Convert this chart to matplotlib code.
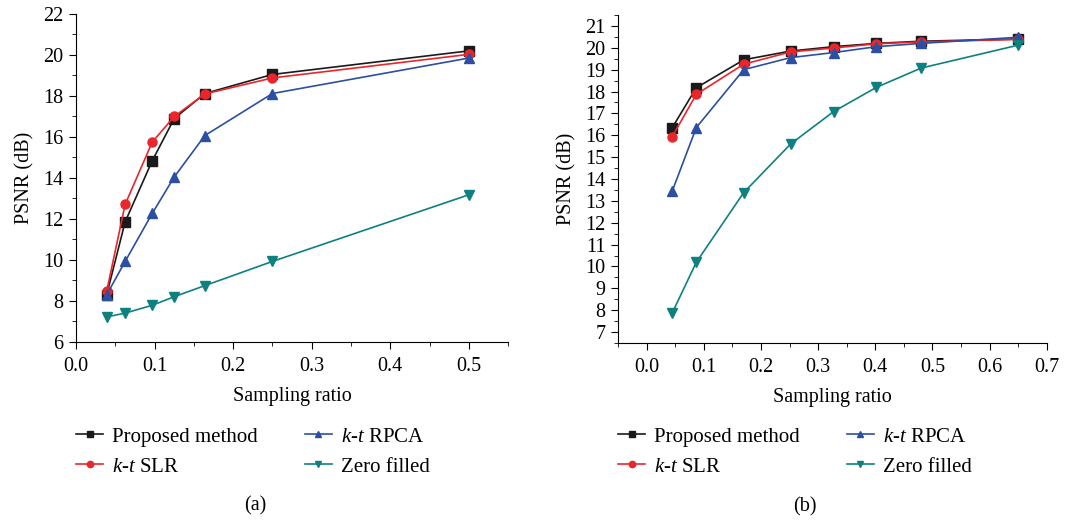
import matplotlib
matplotlib.use("Agg")
from matplotlib import pyplot as plt
from matplotlib.ticker import MultipleLocator, FormatStrFormatter

plt.rcParams["font.family"] = "Liberation Serif"
plt.rcParams["mathtext.fontset"] = "custom"
plt.rcParams["mathtext.it"] = "Liberation Serif:italic"
plt.rcParams["mathtext.rm"] = "Liberation Serif"

# Panel (a)
x_a = [0.039, 0.0625, 0.097, 0.125, 0.164, 0.25, 0.5]
proposed_a = [8.3, 11.86, 14.84, 16.9, 18.12, 19.05, 20.2]
slr_a = [8.47, 12.71, 15.75, 17.0, 18.1, 18.88, 20.03]
rpca_a = [8.3, 9.93, 12.27, 14.05, 16.07, 18.12, 19.85]
zero_a = [7.22, 7.41, 7.79, 8.21, 8.75, 9.93, 13.18]

# Panel (b)
x_b = [0.045, 0.087, 0.17, 0.252, 0.327, 0.402, 0.48, 0.65]
proposed_b = [16.35, 18.17, 19.45, 19.85, 20.05, 20.2, 20.3, 20.4]
slr_b = [15.94, 17.87, 19.25, 19.81, 19.99, 20.18, 20.27, 20.38]
rpca_b = [13.45, 16.35, 19.0, 19.55, 19.78, 20.05, 20.2, 20.48]
zero_b = [7.88, 10.19, 13.38, 15.6, 17.08, 18.19, 19.07, 20.12]

labels = ["Proposed method", "$k$-$t$ SLR", "$k$-$t$ RPCA", "Zero filled"]
colors = ["#1a1a1a", "#e8262b", "#2a4fa3", "#0e8080"]
markers = ["s", "o", "^", "v"]

fig = plt.figure(figsize=(10.83, 5.25), dpi=100)
ax_a = fig.add_axes([0.0702, 0.3486, 0.399, 0.6248])
ax_b = fig.add_axes([0.5706, 0.3467, 0.396, 0.6248])

panels = [
    (ax_a, x_a, [proposed_a, slr_a, rpca_a, zero_a], "(a)", -0.259, 0.414),
    (ax_b, x_b, [proposed_b, slr_b, rpca_b, zero_b], "(b)", -0.256, 0.436),
]

for ax, xs, series, tag, leg_y, tag_x in panels:
    for ys, c, m, lab in zip(series, colors, markers, labels):
        ax.plot(xs, ys, color=c, marker=m, markersize=6.5, linewidth=1.2,
                label=lab, clip_on=False)
    ax.spines["top"].set_visible(False)
    ax.spines["right"].set_visible(False)
    ax.tick_params(which="both", direction="out", labelsize=14.5)
    ax.tick_params(which="major", length=5, pad=4)
    ax.tick_params(axis="x", which="major", pad=6)
    ax.tick_params(which="minor", length=3)
    ax.set_xlabel("Sampling ratio", fontsize=14.5, labelpad=8)
    ax.set_ylabel("PSNR (dB)", fontsize=14.5, labelpad=6)
    ax.xaxis.set_minor_locator(MultipleLocator(0.05))
    ax.xaxis.set_major_locator(MultipleLocator(0.1))
    ax.xaxis.set_major_formatter(FormatStrFormatter("%.1f"))
    ax.legend(loc="upper left", bbox_to_anchor=(0.0, leg_y), ncol=2,
              frameon=False, fontsize=15, handlelength=1.3,
              handletextpad=0.43, columnspacing=2.26, labelspacing=0.5,
              borderpad=0, borderaxespad=0, markerscale=0.7)
    ax.text(tag_x, -0.5, tag, transform=ax.transAxes, ha="center",
            va="center", fontsize=14.5)

ax_a.set_xlim(0, 0.55)
ax_a.set_ylim(6, 22)
ax_a.yaxis.set_major_locator(MultipleLocator(2))
ax_a.yaxis.set_minor_locator(MultipleLocator(1))

ax_b.set_xlim(-0.05, 0.7)
ax_b.set_ylim(6.5, 21.5)
ax_b.yaxis.set_major_locator(MultipleLocator(1))
ax_b.yaxis.set_minor_locator(MultipleLocator(0.5))

fig.savefig("out.png", dpi=100)
